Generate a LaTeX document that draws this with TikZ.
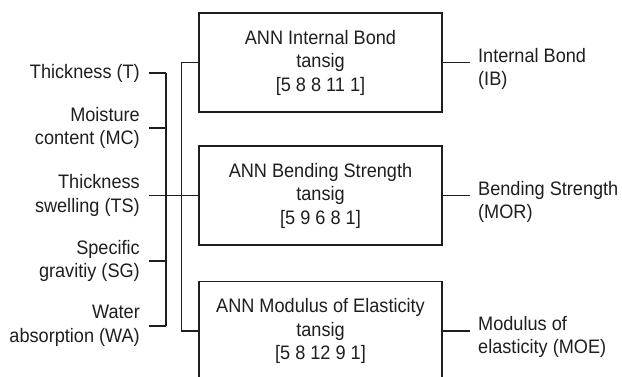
\documentclass[tikz,border=0pt]{standalone}
\usepackage{fontspec}
\setmainfont{Liberation Sans}[FakeStretch=0.93]
\usepackage{tikz}
\usetikzlibrary{positioning,calc}
\definecolor{anngray}{HTML}{1E1E1E}

\begin{document}
\begin{tikzpicture}[
  x=1pt, y=-1pt,
  annbox/.style={draw, minimum width=243pt, minimum height=99pt, align=center, inner sep=0pt},
  inlab/.style={align=right, anchor=east, inner xsep=9pt, inner ysep=0pt},
  outlab/.style={align=left, anchor=west, inner xsep=8pt, inner ysep=0pt},
  every node/.style={font=\fontsize{19.5}{23.5}\selectfont, text=anngray},
  wire/.style={draw=anngray, line width=1.1pt}
]
  \useasboundingbox (0,0) rectangle (622,377);
  \clip (0,0) rectangle (622,377);

  % Input parameters
  \node[inlab] (T)  at (149,73)    {Thickness (T)};
  \node[inlab] (MC) at (149,128)   {Moisture\\content (MC)};
  \node[inlab] (TS) at (149,195.5) {Thickness\\swelling (TS)};
  \node[inlab] (SG) at (149,261)   {Specific\\gravitiy (SG)};
  \node[inlab] (WA) at (149,326)   {Water\\absorption (WA)};

  % Three networks
  \node[annbox, wire] (ann1) at (320.5,62.5)  {ANN Internal Bond\\tansig\\{[5 8 8 11 1]}};
  \node[annbox, wire] (ann2) at (320.5,195.5) {ANN Bending Strength\\tansig\\{[5 9 6 8 1]}};
  \node[annbox, wire] (ann3) at (320.5,331)   {ANN Modulus of Elasticity\\tansig\\{[5 8 12 9 1]}};

  % Outputs
  \node[outlab] (IB)  at (470,69)  {Internal Bond\\(IB)};
  \node[outlab] (MOR) at (470,202) {Bending Strength\\(MOR)};
  \node[outlab] (MOE) at (470,337) {Modulus of\\elasticity (MOE)};

  % Input bracket
  \coordinate (bl) at (166,0);
  \coordinate (bus) at (181.5,0);
  \foreach \n in {T,MC,SG,WA}
    \draw[wire] (\n.east) -- (\n.east -| bl);
  \draw[wire] (T.east -| bl) -- (WA.east -| bl);
  \draw[wire] (TS.east) -- (ann2.west);

  % Bus to the networks
  \draw[wire] (ann1.west) -- (ann1.west -| bus) -- (ann3.west -| bus) -- (ann3.west);

  % Network outputs
  \draw[wire] (ann1.east) -- (ann1.east -| IB.west);
  \draw[wire] (ann2.east) -- (ann2.east -| MOR.west);
  \draw[wire] (ann3.east) -- (ann3.east -| MOE.west);

\end{tikzpicture}
\end{document}
